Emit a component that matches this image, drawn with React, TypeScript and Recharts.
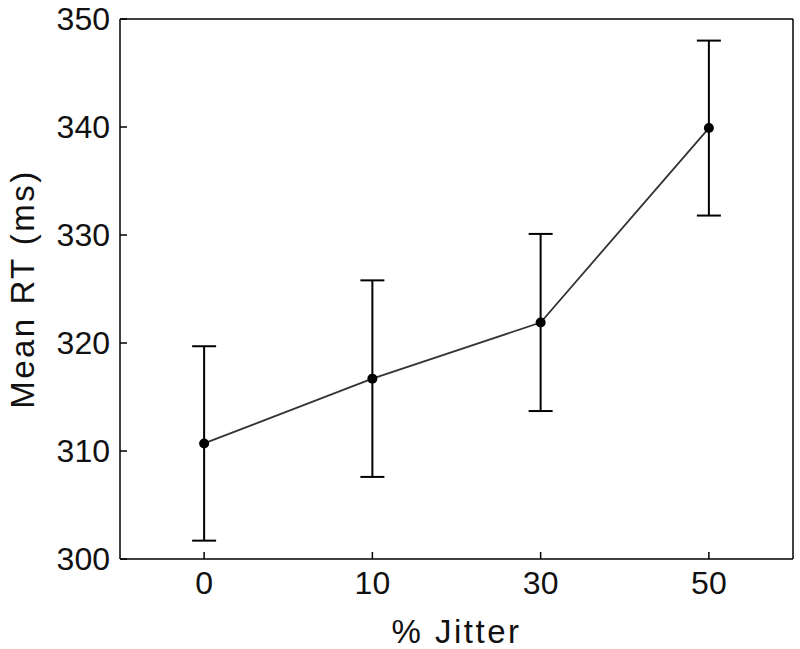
import React from 'react';
import { ComposedChart, Line, XAxis, YAxis, ErrorBar } from 'recharts';

// values
const jitter = ['0', '10', '30', '50'];
const meanRT = [310.7, 316.7, 321.9, 339.9];
const errRT = [9.0, 9.1, 8.2, 8.1];
const yTicks = [300, 310, 320, 330, 340, 350];

const data = jitter.map((j, i) => ({ jitter: j, rt: meanRT[i], err: errRT[i] }));

const font = '"Liberation Sans", Arial, Helvetica, sans-serif';
const axisStroke = { stroke: '#000', strokeWidth: 1.5 };
const tickStyle = { fill: '#111', fontSize: 32, fontFamily: font };
const labelStyle = { fill: '#111', fontSize: 33, fontFamily: font, letterSpacing: 2.5 };

export default function App() {
  return (
    <div style={{ position: 'absolute', left: 0, top: 0, background: '#fff' }}>
      <ComposedChart
        width={800}
        height={649}
        data={data}
        margin={{ top: 18, right: 6, bottom: 0, left: 0 }}
      >
        <XAxis
          xAxisId="bottom"
          dataKey="jitter"
          scale="band"
          height={90}
          tickSize={-7}
          tickMargin={19}
          axisLine={axisStroke}
          tickLine={axisStroke}
          tick={tickStyle}
          interval={0}
          label={{ value: '% Jitter', position: 'insideBottom', offset: 6, ...labelStyle }}
        />
        <XAxis
          xAxisId="top"
          dataKey="jitter"
          scale="band"
          orientation="top"
          height={1}
          tickSize={-7}
          axisLine={axisStroke}
          tickLine={axisStroke}
          tick={false}
          interval={0}
        />
        <YAxis
          yAxisId="left"
          width={120}
          domain={[300, 350]}
          ticks={yTicks}
          interval={0}
          allowDataOverflow
          tickSize={-7}
          tickMargin={17}
          axisLine={axisStroke}
          tickLine={axisStroke}
          tick={tickStyle}
          label={{ value: 'Mean RT (ms)', angle: -90, position: 'center', dx: -38, ...labelStyle }}
        />
        <YAxis
          yAxisId="right"
          orientation="right"
          width={1}
          domain={[300, 350]}
          ticks={yTicks}
          interval={0}
          allowDataOverflow
          tickSize={-7}
          axisLine={axisStroke}
          tickLine={axisStroke}
          tick={false}
        />
        <Line
          xAxisId="top"
          yAxisId="right"
          dataKey="rt"
          stroke="transparent"
          strokeWidth={0}
          dot={false}
          activeDot={false}
          isAnimationActive={false}
        />
        <Line
          xAxisId="bottom"
          yAxisId="left"
          dataKey="rt"
          type="linear"
          stroke="#333"
          strokeWidth={1.8}
          isAnimationActive={false}
          activeDot={false}
          dot={(p: any) => <circle key={`d-${p.index}`} cx={p.cx} cy={p.cy} r={5} fill="#000" />}
        >
          <ErrorBar dataKey="err" direction="y" width={12} stroke="#000" strokeWidth={2} isAnimationActive={false} />
        </Line>
      </ComposedChart>
    </div>
  );
}
